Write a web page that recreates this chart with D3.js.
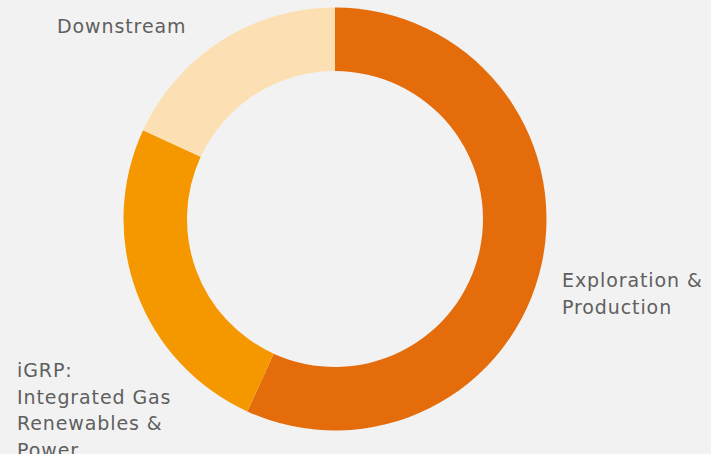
<!DOCTYPE html>
<html>
<head>
<meta charset="utf-8">
<script src="https://cdn.jsdelivr.net/npm/d3@7"></script>
<style>
  body { margin: 0; background: #f2f2f2; }
  svg { display: block; }
</style>
</head>
<body>
<svg></svg>
<script>
// segments, clockwise from 12 o'clock
var categories = ["Exploration & Production", "iGRP: Integrated Gas Renewables & Power", "Downstream"];
var values = [56.8, 25.1, 18.1];
var colors = ["#e46c0a", "#f59800", "#fce0b4"];
// label lines as shown on the slide
var labelLines = [
  ["Exploration &", "Production"],
  ["iGRP:", "Integrated Gas", "Renewables &", "Power"],
  ["Downstream"]
];

var width = 711, height = 454;
var cx = 335, cy = 219;
var outerR = 211.5, innerR = 148;

var svg = d3.select("svg")
            .attr("width", width)
            .attr("height", height);

svg.append("rect")
   .attr("width", width)
   .attr("height", height)
   .attr("fill", "#f2f2f2");

var pie = d3.pie().sort(null).value(function(d) { return d; });
var arc = d3.arc().innerRadius(innerR).outerRadius(outerR);

var g = svg.append("g").attr("transform", "translate(" + cx + "," + cy + ")");

g.selectAll("path")
 .data(pie(values))
 .enter().append("path")
 .attr("d", arc)
 .attr("fill", function(d, i) { return colors[i]; });

// where each label block starts (first baseline)
var labelPos = [
  { x: 562, y: 287 },
  { x: 17, y: 377 },
  { x: 57, y: 33 }
];
var lineH = 26.5;

labelLines.forEach(function(lines, i) {
  var t = svg.append("text")
             .attr("x", labelPos[i].x)
             .attr("y", labelPos[i].y)
             .attr("fill", "#5f5f5f")
             .style("font-family", "'DejaVu Sans', sans-serif")
             .style("font-size", "19px")
             .style("letter-spacing", "0.9px");
  lines.forEach(function(line, j) {
    t.append("tspan")
     .attr("x", labelPos[i].x)
     .attr("dy", j === 0 ? 0 : lineH)
     .text(line);
  });
});
</script>
</body>
</html>
